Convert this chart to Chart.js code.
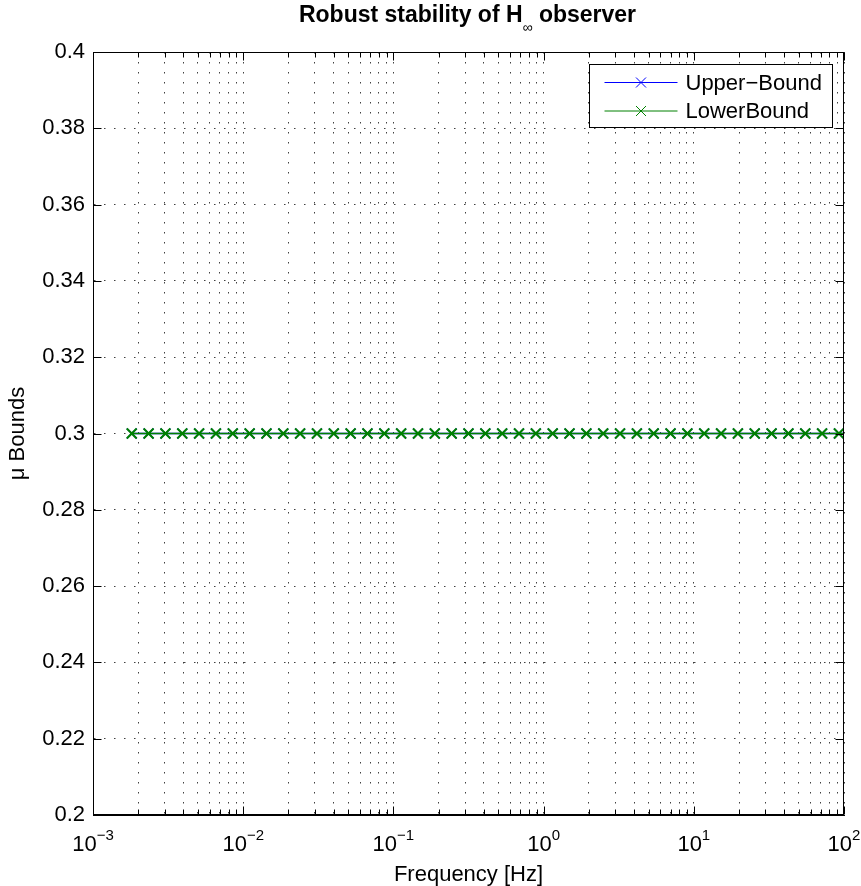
<!DOCTYPE html>
<html>
<head>
<meta charset="utf-8">
<title>Robust stability of H∞ observer</title>
<script src="https://cdn.jsdelivr.net/npm/chart.js@4.4.0/dist/chart.umd.min.js"></script>
<style>
    html, body { margin: 0; padding: 0; background: #fff; }
    #wrap { width: 861px; height: 886px; }
</style>
</head>
<body>
<div id="wrap"><canvas id="muChart" width="861" height="886"></canvas></div>
<script>
// Frequency grid of the mu analysis [Hz]
const frequencies = [
    0.001811, 0.002345, 0.003036, 0.003930, 0.005087, 0.006585, 0.008525, 0.01104,
    0.01429, 0.01849, 0.02393, 0.03098, 0.04010, 0.05191, 0.06720, 0.08700,
    0.1126, 0.1458, 0.1887, 0.2443, 0.3162, 0.4094, 0.5299, 0.6860,
    0.8880, 1.150, 1.488, 1.927, 2.494, 3.228, 4.178, 5.409,
    7.002, 9.064, 11.73, 15.19, 19.66, 25.45, 32.95, 42.65,
    55.21, 71.46, 92.51, 119.8
];

// Structured singular value bounds
const upperBound = [
    0.3, 0.3, 0.3, 0.3, 0.3, 0.3, 0.3, 0.3, 0.3, 0.3, 0.3,
    0.3, 0.3, 0.3, 0.3, 0.3, 0.3, 0.3, 0.3, 0.3, 0.3, 0.3,
    0.3, 0.3, 0.3, 0.3, 0.3, 0.3, 0.3, 0.3, 0.3, 0.3, 0.3,
    0.3, 0.3, 0.3, 0.3, 0.3, 0.3, 0.3, 0.3, 0.3, 0.3, 0.3
];
const lowerBound = [
    0.3, 0.3, 0.3, 0.3, 0.3, 0.3, 0.3, 0.3, 0.3, 0.3, 0.3,
    0.3, 0.3, 0.3, 0.3, 0.3, 0.3, 0.3, 0.3, 0.3, 0.3, 0.3,
    0.3, 0.3, 0.3, 0.3, 0.3, 0.3, 0.3, 0.3, 0.3, 0.3, 0.3,
    0.3, 0.3, 0.3, 0.3, 0.3, 0.3, 0.3, 0.3, 0.3, 0.3, 0.3
];

const seriesLabels = ['Upper\u2212Bound', 'LowerBound'];
const yTicks = [0.2, 0.22, 0.24, 0.26, 0.28, 0.3, 0.32, 0.34, 0.36, 0.38, 0.4];
const xDecades = [-3, -2, -1, 0, 1, 2];

const FONT = "'Liberation Sans', Arial, Helvetica, sans-serif";

function toPoints(ys) {
    return frequencies.map((f, i) => ({ x: f, y: ys[i] }));
}

// all log grid positions: 1..9 x 10^k plus the last decade
function logGridValues() {
    const vals = [];
    for (let i = 0; i < xDecades.length - 1; i++) {
        for (let m = 1; m <= 9; m++) {
            vals.push(Number((m * Math.pow(10, xDecades[i])).toPrecision(3)));
        }
    }
    vals.push(Math.pow(10, xDecades[xDecades.length - 1]));
    return vals;
}

function isDecade(v) {
    const e = Math.log10(v);
    return Math.abs(e - Math.round(e)) < 1e-9;
}

// Title with subscripted infinity
const titlePlugin = {
    id: 'matlabTitle',
    afterDraw(chart) {
        const ctx = chart.ctx;
        const area = chart.chartArea;
        const cx = (area.left + area.right) / 2;
        const parts = [
            { text: 'Robust stability of H', font: 'bold 23px ' + FONT, dy: 0 },
            { text: '\u221E', font: '14px ' + FONT, dy: 10 },
            { text: ' observer', font: 'bold 23px ' + FONT, dy: 0 }
        ];
        ctx.save();
        ctx.fillStyle = '#000';
        ctx.textBaseline = 'alphabetic';
        ctx.textAlign = 'left';
        let total = 0;
        parts.forEach(p => { ctx.font = p.font; p.w = ctx.measureText(p.text).width; total += p.w; });
        let x = cx - total / 2 - 1;
        parts.forEach(p => {
            ctx.font = p.font;
            ctx.fillText(p.text, x, 22 + p.dy);
            x += p.w;
        });
        ctx.restore();
    }
};

// Axes box, inward tick marks, decade labels and axis titles
const axesPlugin = {
    id: 'matlabAxes',
    afterDraw(chart) {
        const ctx = chart.ctx;
        const area = chart.chartArea;
        const xs = chart.scales.x;
        const ys = chart.scales.y;
        const L = Math.round(area.left) + 0.5;
        const R = Math.round(area.right) - 0.5;
        const T = Math.round(area.top) + 0.5;
        const B = Math.round(area.bottom) - 0.5;

        ctx.save();
        ctx.strokeStyle = '#000';
        ctx.lineWidth = 1;
        ctx.strokeRect(L, T, R - L, B - T);

        ctx.beginPath();
        xs.ticks.forEach(t => {
            const px = Math.round(xs.getPixelForValue(t.value)) + 0.5;
            const len = isDecade(t.value) ? 8 : 5;
            ctx.moveTo(px, B); ctx.lineTo(px, B - len);
            ctx.moveTo(px, T); ctx.lineTo(px, T + len);
        });
        ys.ticks.forEach(t => {
            const py = Math.round(ys.getPixelForValue(t.value)) + 0.5;
            ctx.moveTo(L, py); ctx.lineTo(L + 8, py);
            ctx.moveTo(R, py); ctx.lineTo(R - 8, py);
        });
        ctx.stroke();

        // decade labels 10^k
        ctx.fillStyle = '#000';
        ctx.textBaseline = 'alphabetic';
        ctx.textAlign = 'left';
        xDecades.forEach(e => {
            const px = xs.getPixelForValue(Math.pow(10, e));
            const expText = e < 0 ? '\u2212' + Math.abs(e) : String(e);
            ctx.font = '22px ' + FONT;
            const wBase = ctx.measureText('10').width;
            ctx.font = '15px ' + FONT;
            const wExp = ctx.measureText(expText).width;
            const x0 = px - (wBase + wExp) / 2;
            ctx.font = '22px ' + FONT;
            ctx.fillText('10', x0, 851);
            ctx.font = '15px ' + FONT;
            ctx.fillText(expText, x0 + wBase, 840);
        });

        // axis titles
        ctx.font = '22px ' + FONT;
        ctx.textAlign = 'center';
        ctx.fillText('Frequency [Hz]', (area.left + area.right) / 2, 881);

        ctx.save();
        ctx.translate(24, (area.top + area.bottom) / 2);
        ctx.rotate(-Math.PI / 2);
        ctx.fillText('\u03BC Bounds', 0, 0);
        ctx.restore();

        ctx.restore();
    }
};

// Boxed legend in the upper right corner of the axes
const legendPlugin = {
    id: 'boxLegend',
    afterDraw(chart) {
        const ctx = chart.ctx;
        const area = chart.chartArea;
        const boxW = 243, boxH = 63;
        const bx = Math.round(area.right - 12 - boxW) + 0.5;
        const by = Math.round(area.top + 12) + 0.5;
        ctx.save();
        ctx.fillStyle = '#fff';
        ctx.fillRect(bx, by, boxW, boxH);
        ctx.strokeStyle = '#000';
        ctx.lineWidth = 1;
        ctx.strokeRect(bx, by, boxW, boxH);

        chart.data.datasets.forEach((ds, i) => {
            const ry = by + 18 + i * 28.5;
            ctx.strokeStyle = ds.borderColor;
            ctx.lineWidth = 1;
            ctx.beginPath();
            ctx.moveTo(bx + 15, ry);
            ctx.lineTo(bx + 88, ry);
            const mx = bx + 51.5, r = 5;
            ctx.moveTo(mx - r, ry - r); ctx.lineTo(mx + r, ry + r);
            ctx.moveTo(mx - r, ry + r); ctx.lineTo(mx + r, ry - r);
            ctx.stroke();

            ctx.fillStyle = '#000';
            ctx.font = '22px ' + FONT;
            ctx.textAlign = 'left';
            ctx.textBaseline = 'alphabetic';
            ctx.fillText(ds.label, bx + 96, ry + 7);
        });
        ctx.restore();
    }
};

const ctx = document.getElementById('muChart').getContext('2d');

const muChart = new Chart(ctx, {
    type: 'line',
    data: {
        datasets: [
            {
                label: seriesLabels[0],
                data: toPoints(upperBound),
                borderColor: '#0000ff',
                backgroundColor: '#0000ff',
                borderWidth: 1.5,
                pointStyle: 'crossRot',
                pointRadius: 7,
                pointBorderWidth: 1.5,
                pointBorderColor: '#0000ff',
                tension: 0,
                fill: false,
                order: 1
            },
            {
                label: seriesLabels[1],
                data: toPoints(lowerBound),
                borderColor: '#008000',
                backgroundColor: '#008000',
                borderWidth: 1.5,
                pointStyle: 'crossRot',
                pointRadius: 7,
                pointBorderWidth: 2,
                pointBorderColor: '#008000',
                tension: 0,
                fill: false,
                order: 0
            }
        ]
    },
    options: {
        responsive: false,
        animation: false,
        devicePixelRatio: 1,
        layout: {
            padding: { top: 52, right: 17, left: 0, bottom: 0 }
        },
        plugins: {
            legend: { display: false },
            title: { display: false },
            tooltip: { enabled: false }
        },
        scales: {
            x: {
                type: 'logarithmic',
                min: 1e-3,
                max: 100,
                afterBuildTicks: scale => {
                    scale.ticks = logGridValues().map(v => ({ value: v }));
                },
                afterFit: scale => { scale.height = 71; },
                ticks: { display: false },
                grid: {
                    color: 'rgba(0, 0, 0, 0.75)',
                    lineWidth: 1,
                    drawTicks: false
                },
                border: { display: true, color: '#000', width: 1, dash: [1.5, 8.5] }
            },
            y: {
                min: 0.2,
                max: 0.4,
                afterBuildTicks: scale => {
                    scale.ticks = yTicks.map(v => ({ value: v }));
                },
                afterFit: scale => { scale.width = 93; },
                ticks: {
                    color: '#000',
                    padding: 8,
                    autoSkip: false,
                    font: { family: FONT, size: 22 },
                    callback: v => String(Number(v.toFixed(2)))
                },
                grid: {
                    color: 'rgba(0, 0, 0, 0.75)',
                    lineWidth: 1,
                    drawTicks: false
                },
                border: { display: true, color: '#000', width: 1, dash: [1.5, 8.5] }
            }
        }
    },
    plugins: [titlePlugin, axesPlugin, legendPlugin]
});
</script>
</body>
</html>
